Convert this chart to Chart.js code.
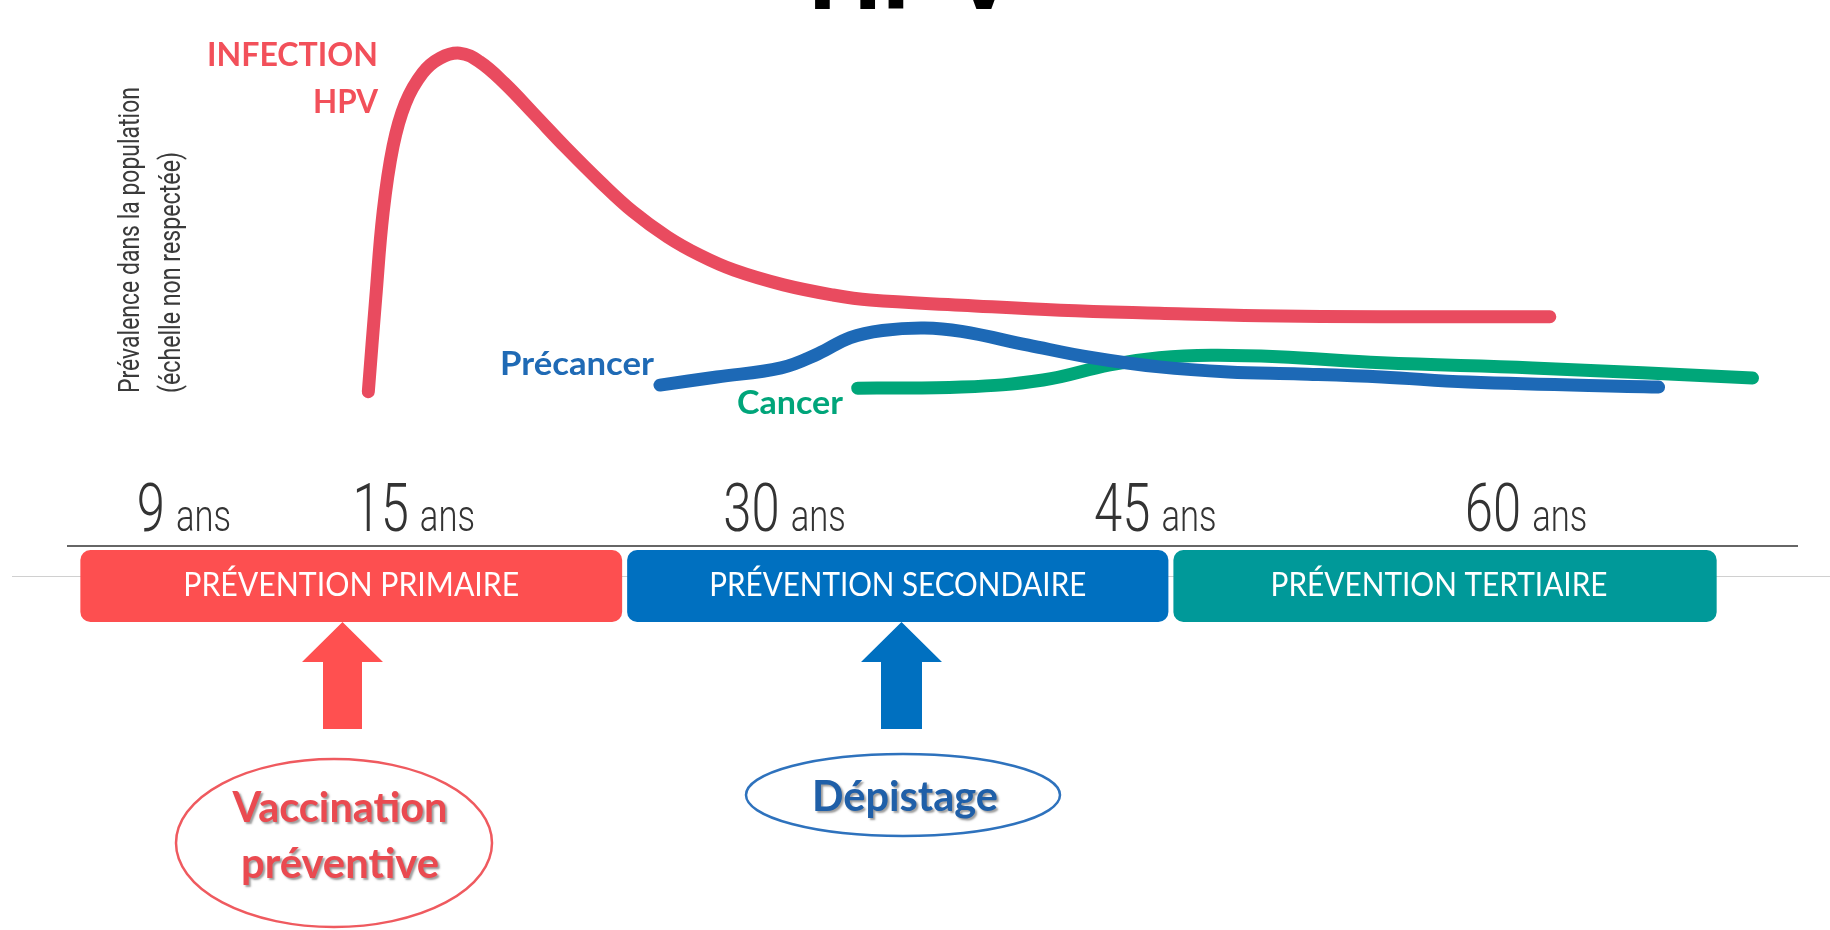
<!DOCTYPE html>
<html lang="fr">
<head>
<meta charset="utf-8">
<title>HPV</title>
<script src="https://cdn.jsdelivr.net/npm/chart.js@4.4.1/dist/chart.umd.min.js"></script>
<style>
  html, body { margin: 0; padding: 0; background: #fff; }
  canvas { display: block; }
</style>
</head>
<body>
<canvas id="hpvChart" width="1830" height="930"></canvas>
<script>
// courbes : âge (position sur l'axe) et niveau sur une échelle arbitraire 0-100
const infectionAges = [14.5, 14.8, 15.1, 15.5, 16.0, 16.7, 17.4, 18.2, 19.0, 20.0, 21.2, 22.5, 23.9, 25.2, 26.6, 27.9, 29.3, 31.3, 33.3, 34.8, 38.5, 42.5, 46.5, 50.6, 55.5, 62.3];
const infectionLevels = [30.5, 49, 66, 79, 87.5, 93.5, 96.4, 97.4, 95.7, 91.5, 85.4, 78.7, 71.9, 66.1, 61.1, 57.5, 54.5, 51.6, 49.6, 48.6, 47.6, 46.6, 46, 45.5, 45.3, 45.3];

const precancerAges = [26.3, 28.6, 31.2, 32.7, 34.0, 35.3, 37.0, 38.5, 41.2, 43.8, 46.5, 49.3, 52.2, 55.5, 59.0, 66.7];
const precancerLevels = [31.8, 33.4, 35.2, 38.0, 41.2, 42.6, 43.1, 42.4, 39.7, 37.2, 35.4, 34.4, 34.0, 33.4, 32.4, 31.4];

const cancerAges = [34.3, 38.5, 41.8, 44.5, 46.5, 48.6, 51.3, 55.5, 61.6, 70.5];
const cancerLevels = [31.2, 31.4, 32.8, 35.8, 37.2, 37.7, 37.4, 36.2, 35.2, 33.2];

// graduations de l'axe des âges (le début de l'axe est resserré)
const tickPositions = [5.7, 15, 30, 45, 60];
const tickLabels = ['9', '15', '30', '45', '60'];

// bandeaux de prévention, bornes en âge
const phaseLabels = ['PRÉVENTION PRIMAIRE', 'PRÉVENTION SECONDAIRE', 'PRÉVENTION TERTIAIRE'];
const phaseBounds = [2.85, 24.87, 46.97, 69.05];
const phaseColors = ['#fd4f50', '#0070c0', '#009999'];

const RED = '#e94b5f';
const BLUE = '#1d69b6';
const GREEN = '#00a679';

function toPoints(xs, ys) {
  return xs.map((x, i) => ({ x: x, y: ys[i] }));
}

// écrit un texte en le resserrant/étirant horizontalement à une largeur donnée
function fitText(ctx, text, x, y, width, align) {
  ctx.save();
  ctx.textAlign = align || 'left';
  const w = ctx.measureText(text).width;
  ctx.translate(x, y);
  ctx.scale(width / w, 1);
  ctx.fillText(text, 0, 0);
  ctx.restore();
}

function drawArrow(ctx, cx, tipY, headHalf, shaftHalf, baseY, bottomY, color) {
  ctx.beginPath();
  ctx.moveTo(cx, tipY);
  ctx.lineTo(cx + headHalf, baseY);
  ctx.lineTo(cx + shaftHalf, baseY);
  ctx.lineTo(cx + shaftHalf, bottomY);
  ctx.lineTo(cx - shaftHalf, bottomY);
  ctx.lineTo(cx - shaftHalf, baseY);
  ctx.lineTo(cx - headHalf, baseY);
  ctx.closePath();
  ctx.fillStyle = color;
  ctx.fill();
}

function shadowed(ctx, fn) {
  ctx.save();
  ctx.shadowColor = 'rgba(60,60,60,0.5)';
  ctx.shadowOffsetX = 2;
  ctx.shadowOffsetY = 2;
  ctx.shadowBlur = 2;
  fn();
  ctx.restore();
}

const annotations = {
  id: 'annotations',
  afterDraw(chart) {
    const ctx = chart.ctx;
    const x = chart.scales.x;
    ctx.save();
    ctx.textBaseline = 'alphabetic';

    // titre coupé en haut
    ctx.fillStyle = '#000';
    ctx.font = 'bold 102px "Liberation Sans", Arial, sans-serif';
    ctx.textAlign = 'center';
    ctx.fillText('HPV', 913, 9);

    // titre de l'axe vertical
    ctx.fillStyle = '#3a3a3a';
    ctx.font = '400 30px Roboto, sans-serif';
    ctx.save();
    ctx.translate(139, 393);
    ctx.rotate(-Math.PI / 2);
    fitText(ctx, 'Prévalence dans la population', 0, 0, 306);
    ctx.restore();
    ctx.save();
    ctx.translate(180, 393);
    ctx.rotate(-Math.PI / 2);
    fitText(ctx, '(échelle non respectée)', 0, 0, 241);
    ctx.restore();

    // étiquettes des courbes
    ctx.font = 'bold 32px Lato, sans-serif';
    ctx.fillStyle = '#f2505a';
    fitText(ctx, 'INFECTION', 378, 66, 171, 'right');
    fitText(ctx, 'HPV', 378, 113, 65, 'right');
    ctx.fillStyle = '#1f6ab5';
    fitText(ctx, 'Précancer', 500, 375, 154);
    ctx.fillStyle = '#00a57a';
    fitText(ctx, 'Cancer', 737, 414, 106);

    // graduations : "9 ans", "15 ans"...
    ctx.fillStyle = '#333';
    tickLabels.forEach((lab, i) => {
      const px = x.getPixelForValue(tickPositions[i]);
      ctx.font = '300 66px Roboto, sans-serif';
      const numW = ctx.measureText(lab).width * 0.77;
      fitText(ctx, lab, px, 531, numW, 'center');
      ctx.font = '300 45px Roboto, sans-serif';
      const ansW = ctx.measureText('ans').width * 0.77;
      fitText(ctx, 'ans', px + numW / 2 + 11, 531, ansW);
    });

    // trait gris derrière les bandeaux
    ctx.strokeStyle = '#d0d0d0';
    ctx.lineWidth = 1;
    ctx.beginPath();
    ctx.moveTo(12, 576.5);
    ctx.lineTo(1830, 576.5);
    ctx.stroke();

    // bandeaux de prévention
    phaseLabels.forEach((lab, i) => {
      const left = x.getPixelForValue(phaseBounds[i]) + (i ? 2.5 : 0);
      const right = x.getPixelForValue(phaseBounds[i + 1]) - (i < 2 ? 2.5 : 0);
      ctx.fillStyle = phaseColors[i];
      ctx.beginPath();
      ctx.roundRect(left, 550, right - left, 72, 10);
      ctx.fill();
      ctx.fillStyle = '#fff';
      ctx.font = '400 32px Lato, sans-serif';
      const widths = [336, 377, 337];
      fitText(ctx, lab, (left + right) / 2 - (i === 2 ? 6 : 0), 596, widths[i], 'center');
    });

    // flèches
    drawArrow(ctx, 342.5, 622, 40.5, 19.5, 662, 729, '#ff5050');
    drawArrow(ctx, 901.5, 622, 40.5, 20.5, 662, 729, '#0070c0');

    // ellipses
    ctx.lineWidth = 2.5;
    ctx.strokeStyle = '#ef5a5f';
    ctx.beginPath();
    ctx.ellipse(334, 843, 158, 84, 0, 0, Math.PI * 2);
    ctx.stroke();
    ctx.strokeStyle = '#2e72bd';
    ctx.beginPath();
    ctx.ellipse(903, 795, 157, 41, 0, 0, Math.PI * 2);
    ctx.stroke();

    ctx.font = 'bold 42px Lato, sans-serif';
    shadowed(ctx, () => {
      ctx.fillStyle = '#ea4a50';
      fitText(ctx, 'Vaccination', 340, 822, 215, 'center');
      fitText(ctx, 'préventive', 340, 878, 198, 'center');
      ctx.fillStyle = '#1f5fa8';
      fitText(ctx, 'Dépistage', 905, 811, 186, 'center');
    });

    ctx.restore();
  }
};

const lineStyle = {
  borderWidth: 13,
  borderCapStyle: 'round',
  borderJoinStyle: 'round',
  pointRadius: 0,
  tension: 0.4,
  fill: false
};

new Chart(document.getElementById('hpvChart'), {
  type: 'line',
  data: {
    datasets: [
      Object.assign({ label: 'Infection HPV', data: toPoints(infectionAges, infectionLevels), borderColor: RED }, lineStyle),
      Object.assign({ label: 'Précancer', data: toPoints(precancerAges, precancerLevels), borderColor: BLUE }, lineStyle),
      Object.assign({ label: 'Cancer', data: toPoints(cancerAges, cancerLevels), borderColor: GREEN }, lineStyle)
    ]
  },
  options: {
    responsive: false,
    animation: false,
    layout: { padding: { top: 40, left: 68, right: 33, bottom: 384 } },
    plugins: { legend: { display: false }, tooltip: { enabled: false } },
    scales: {
      x: {
        type: 'linear',
        min: 2.35,
        max: 72.3,
        grid: { display: false, drawTicks: false },
        ticks: { display: false },
        border: { display: true, color: '#666', width: 2 }
      },
      y: {
        display: false,
        min: 0,
        max: 100
      }
    }
  },
  plugins: [annotations]
});
</script>
</body>
</html>
